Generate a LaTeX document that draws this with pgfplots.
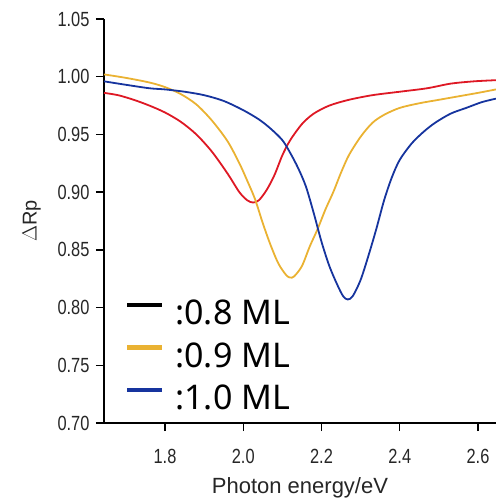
\documentclass[border=0pt]{standalone}
\usepackage{fontspec}
\setmainfont{Liberation Sans}
\newfontfamily\tickfont[FakeStretch=0.8]{Liberation Sans}
\newfontfamily\legfont{Noto Sans}
\usepackage{pgfplots}
\pgfplotsset{compat=1.18}
\definecolor{cred}{RGB}{222,24,36}
\definecolor{cyel}{RGB}{234,178,50}
\definecolor{cblue}{RGB}{22,52,158}
\begin{document}
\begin{tikzpicture}
\path[use as bounding box] (-104pt,-81pt) rectangle (392pt,423pt);
\begin{axis}[
  at={(0,0)}, anchor=south west,
  scale only axis, width=392pt, height=404pt,
  xmin=1.644, xmax=2.646, ymin=0.70, ymax=1.05,
  axis x line*=bottom, axis y line*=left,
  axis line style={line width=1.4pt, -},
  xtick={1.8,2.0,2.2,2.4,2.6},
  ytick={0.70,0.75,0.80,0.85,0.90,0.95,1.00,1.05},
  tick align=outside, major tick length=8pt,
  tick style={line width=1.4pt, black},
  minor tick num=0,
  /pgf/number format/assume math mode=true,
  xticklabel style={/pgf/number format/.cd, fixed, fixed zerofill, precision=1, /tikz/.cd, yshift=-15pt},
  yticklabel style={/pgf/number format/.cd, fixed, fixed zerofill, precision=2, /tikz/.cd, xshift=-3pt},
  ticklabel style={font=\tickfont\fontsize{20.5}{20.5}\selectfont, text=black!85},
  xlabel={Photon energy/eV},
  xlabel style={font=\fontsize{22}{22}\selectfont, text=black!85, yshift=-7pt},
  ylabel={$\Delta$Rp},
  ylabel style={font=\fontsize{20}{20}\selectfont, text=black!85, yshift=10pt},
  legend style={draw=none, fill=none, at={(0.045,0.16)}, anchor=west,
    font=\legfont\fontsize{34}{34}\selectfont, row sep=0pt,
    nodes={inner ysep=0pt, text height=30pt, text depth=12.5pt}},
  legend cell align=left,
  legend image code/.code={\draw[#1, line width=4.5pt] (0pt,11pt) -- (35pt,11pt);},
]
\addlegendimage{black}
\addlegendentry{\hspace{9pt}:0.8 ML}
\addlegendimage{cyel}
\addlegendentry{\hspace{9pt}:0.9 ML}
\addlegendimage{cblue}
\addlegendentry{\hspace{9pt}:1.0 ML}

\addplot[cred, line width=1.8pt, smooth, forget plot] coordinates {
(1.644,0.986) (1.68,0.984) (1.72,0.980) (1.76,0.975) (1.80,0.969) (1.84,0.961)
(1.88,0.950) (1.92,0.935) (1.96,0.916) (1.99,0.900) (2.01,0.893) (2.025,0.891)
(2.04,0.893) (2.06,0.902) (2.08,0.915) (2.10,0.932) (2.12,0.945) (2.15,0.959)
(2.18,0.968) (2.22,0.975) (2.27,0.980) (2.33,0.984) (2.40,0.987) (2.47,0.990)
(2.53,0.994) (2.59,0.996) (2.646,0.997)};

\addplot[cyel, line width=1.8pt, smooth, forget plot] coordinates {
(1.644,1.002) (1.70,0.999) (1.76,0.995) (1.80,0.991) (1.84,0.985) (1.88,0.976)
(1.92,0.962) (1.96,0.944) (1.99,0.925) (2.01,0.910) (2.03,0.894) (2.05,0.873)
(2.07,0.854) (2.09,0.838) (2.11,0.828) (2.12,0.826) (2.13,0.827) (2.15,0.836)
(2.17,0.853) (2.19,0.868) (2.21,0.885) (2.23,0.900) (2.25,0.917) (2.27,0.932)
(2.30,0.948) (2.33,0.960) (2.36,0.967) (2.40,0.973) (2.45,0.977) (2.50,0.980)
(2.55,0.983) (2.60,0.986) (2.646,0.989)};

\addplot[cblue, line width=1.8pt, smooth, forget plot] coordinates {
(1.644,0.996) (1.70,0.993) (1.76,0.990) (1.80,0.989) (1.85,0.987) (1.90,0.984)
(1.95,0.979) (2.00,0.971) (2.04,0.963) (2.07,0.955) (2.10,0.945) (2.12,0.934)
(2.14,0.921) (2.16,0.905) (2.18,0.882) (2.20,0.857) (2.22,0.836) (2.24,0.820)
(2.255,0.810) (2.267,0.807) (2.28,0.810) (2.30,0.824) (2.32,0.845) (2.34,0.868)
(2.36,0.893) (2.38,0.913) (2.40,0.928) (2.43,0.942) (2.46,0.952) (2.49,0.960)
(2.53,0.968) (2.57,0.973) (2.61,0.978) (2.646,0.981)};
\end{axis}
\end{tikzpicture}
\end{document}
